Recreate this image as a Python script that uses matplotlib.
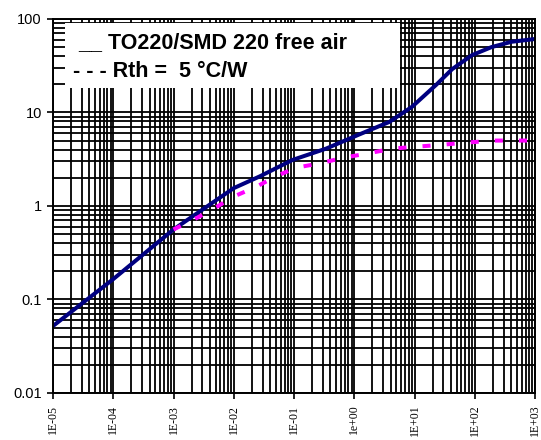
import numpy as np
import matplotlib.pyplot as plt
from matplotlib.patches import Rectangle
from matplotlib.ticker import FixedLocator, FixedFormatter, LogLocator, NullFormatter

# Thermal impedance, TO220/SMD 220 free air.
t_zth = [1e-5, 1e-4, 1e-3, 1e-2, 2.7e-2, 9.4e-2, 0.34, 1.2, 3.8, 9.1,
         23, 42, 90, 190, 410, 1000]
zth = [0.052, 0.165, 0.56, 1.55, 2.07, 3.1, 4.1, 5.8, 7.9, 11.5,
       19.8, 29, 41, 50, 57, 61]

# Rth = 5 K/W reference curve.
t_rth = [1e-3, 2.4e-3, 5.4e-3, 1.0e-2, 2.4e-2, 5.3e-2, 0.11, 0.26, 0.68,
         1.64, 4.3, 10.7, 27.5, 74, 210, 500, 1000]
rth = [0.56, 0.74, 0.99, 1.26, 1.61, 2.11, 2.57, 2.84, 3.29,
       3.63, 4.1, 4.3, 4.5, 4.76, 5.0, 5.0, 5.0]

x_ticks = [1e-5, 1e-4, 1e-3, 1e-2, 1e-1, 1, 10, 100, 1000]
x_labels = ["1E-05", "1E-04", "1E-03", "1E-02", "1E-01", "1e+00",
            "1E+01", "1E+02", "1E+03"]
y_ticks = [0.01, 0.1, 1, 10, 100]
y_labels = ["0.01", "0.1", "1", "10", "100"]

fig = plt.figure(figsize=(5.41, 4.40), dpi=100)
ax = fig.add_axes([0.098, 0.107, 0.891, 0.850])

ax.plot(t_zth, zth, color="#000080", linewidth=2.9, zorder=2)
ax.plot(t_rth, rth, color="#ff00ff", linewidth=2.9, dashes=(2, 4), zorder=3)

ax.set_xscale("log")
ax.set_yscale("log")
ax.set_xlim(1e-5, 1e3)
ax.set_ylim(0.01, 100)

ax.xaxis.set_major_locator(FixedLocator(x_ticks))
ax.xaxis.set_major_formatter(FixedFormatter(x_labels))
ax.yaxis.set_major_locator(FixedLocator(y_ticks))
ax.yaxis.set_major_formatter(FixedFormatter(y_labels))
for a in (ax.xaxis, ax.yaxis):
    a.set_minor_locator(LogLocator(base=10, subs=np.arange(2, 10), numticks=20))
    a.set_minor_formatter(NullFormatter())

ax.grid(True, which="both", color="black", linewidth=1.3)
ax.tick_params(which="major", direction="out", length=4.5, width=1.2)
ax.tick_params(which="minor", length=0)
ax.tick_params(axis="x", pad=4)
for lbl in ax.get_xticklabels():
    lbl.set_fontfamily("Liberation Serif")
    lbl.set_fontsize(8.5)
    lbl.set_rotation(90)
for lbl in ax.get_yticklabels():
    lbl.set_fontfamily("Liberation Sans")
    lbl.set_fontsize(10.5)
for s in ax.spines.values():
    s.set_linewidth(1.4)

# White legend box drawn over the grid.
ax.add_patch(Rectangle((0.025, 0.816), 0.695, 0.173, transform=ax.transAxes,
                       facecolor="white", edgecolor="none", zorder=1.8))
ax.text(0.052, 0.922, "__ TO220/SMD 220 free air", transform=ax.transAxes,
        fontfamily="Liberation Sans", fontweight="bold", fontsize=15.5,
        va="baseline", ha="left", zorder=4)
ax.text(0.041, 0.846, "- - - Rth =  5 °C/W", transform=ax.transAxes,
        fontfamily="Liberation Sans", fontweight="bold", fontsize=15.5,
        va="baseline", ha="left", zorder=4)

fig.savefig("out.png", dpi=100)
